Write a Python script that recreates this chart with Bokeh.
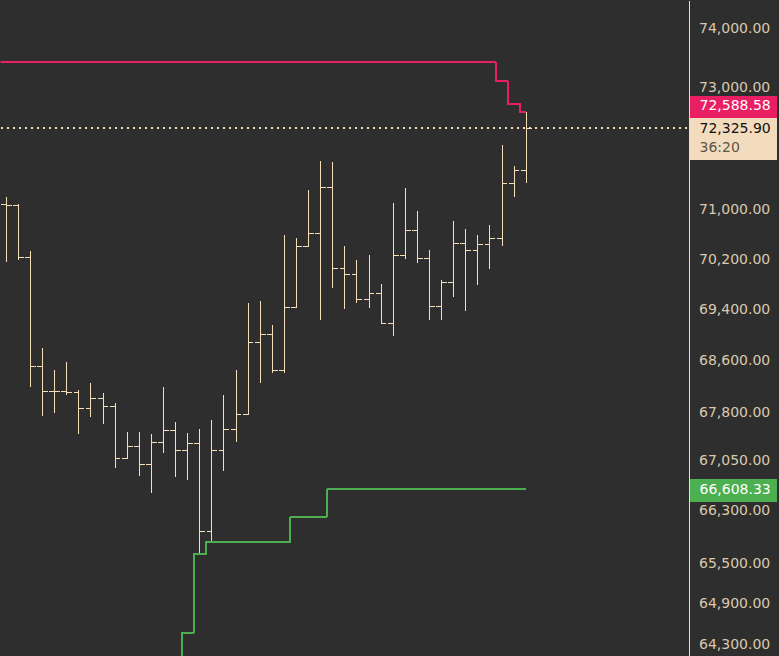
import numpy as np
from bokeh.plotting import figure
from bokeh.models import Range1d, FixedTicker, NumeralTickFormatter, Label, BoxAnnotation
from bokeh.embed import file_html
from bokeh.resources import INLINE

highs = [71193,71079,70337,68799,68440,68565,68140,68238,68082,67927,67480,67480,67449,68190,67634,67465,
         67526,67665,68051,68440,69493,69540,69146,70579,70531,71307,71780,71763,70413,70178,70273,69795,
         71096,71340,70966,70353,69859,70805,70677,70579,70741,72057,71698,72588.58]
lows = [70151,70182,68180,67731,67777,68051,67454,67716,67608,66933,67077,66811,66552,67162,66796,66750,
        65624,65824,66887,67331,67753,68243,68398,68398,69441,70397,69225,69736,69403,69497,69419,69173,
        68977,70198,70134,69225,69225,69593,69371,69784,70039,70403,71198,71431]
closes = [71058,70221,68498,68109,68109,68093,67845,68000,67876,67077,67260,66995,67322,67506,67198,67306,
          65970,67198,67522,67753,68873,68999,68435,69425,70397,70606,71351,70045,69950,69551,69647,69173,
          70252,70655,70205,69441,69822,70452,70332,70436,70532,71416,71628,72325.90]
first_open = 71075
resistance = [73420]*42 + [73100,72723,72588.58]
support = [63900,64463,65633] + [65813]*7 + [66190]*3 + [66608.33]*17
tick_values = [74000,73000,71000,70200,69400,68600,67800,67050,66300,65500,64900,64300]
last_price = 72325.90
countdown = "36:20"

BG = "#2e2e2e"; BAR = "#f5deb9"; RED = "#e91e63"; GREEN = "#4caf50"; TAG = "#f3dcbe"; TXT = "#dac9af"
FONT = "DejaVu Sans"; FS = "14px"; TICK = 0.44
X_START = -0.4839; X_END = 63.949; AXIS_X = 56.464; DOT_END = 56.26

idx = np.arange(len(closes))
opens = [first_open] + closes[:-1]

p = figure(width=779, height=656, output_backend="svg", toolbar_location=None,
           x_range=Range1d(X_START, X_END), y_range=Range1d(64120, 74462),
           y_axis_type="log", y_axis_location="right",
           background_fill_color=BG, border_fill_color=BG, outline_line_color=None,
           min_border_left=0, min_border_top=0, min_border_bottom=0, min_border_right=0)
p.styles = {"shape-rendering": "crispEdges", "background-color": BG}
p.xaxis.visible = False
p.grid.visible = False
ax = p.yaxis[0]
ax.fixed_location = AXIS_X
ax.ticker = FixedTicker(ticks=tick_values)
ax.formatter = NumeralTickFormatter(format="0,0.00")
ax.major_tick_line_color = None; ax.minor_tick_line_color = None
ax.axis_line_color = BAR; ax.axis_line_width = 1
ax.major_label_standoff = 4
ax.major_label_text_color = TXT; ax.major_label_text_font = FONT; ax.major_label_text_font_size = FS

p.segment(idx, lows, idx, highs, line_color=BAR, line_width=1)
p.segment(idx - TICK, opens, idx, opens, line_color=BAR, line_width=1)
p.segment(idx, closes, idx + TICK, closes, line_color=BAR, line_width=1)

p.step(np.arange(-1, len(closes)), resistance, mode="center", line_color=RED, line_width=2)
p.step(np.arange(14, len(closes)), support, mode="center", line_color=GREEN, line_width=2)

p.line([X_START, DOT_END], [last_price, last_price], line_color=BAR, line_width=2, line_dash=[2, 4])

def tag(top, bottom, color):
    p.add_layout(BoxAnnotation(left=689, right=776, top=top, bottom=bottom,
                               left_units="canvas", right_units="canvas", top_units="canvas", bottom_units="canvas",
                               fill_color=color, fill_alpha=1, line_color=None))

def txt(text, y, color, offset=0):
    p.add_layout(Label(x=699, y=y, x_units="canvas", y_units="data", text=text, y_offset=offset,
                       text_color=color, text_font=FONT, text_font_size=FS, text_baseline="middle"))

tag(95, 117, RED)
tag(117, 159, TAG)
tag(478, 501, GREEN)
txt(f"{resistance[-1]:,.2f}", resistance[-1], "#ffffff", 7)
txt(f"{last_price:,.2f}", last_price, "#111111")
txt(countdown, last_price, "#5b5348", -19)
txt(f"{support[-1]:,.2f}", support[-1], "#ffffff")

open("out.html", "w").write(file_html(p, INLINE))
